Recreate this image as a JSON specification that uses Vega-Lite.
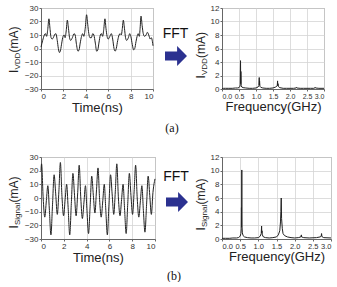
{
  "$schema": "https://vega.github.io/schema/vega-lite/v6.json",
  "padding": {"left": 6, "top": 3, "right": 0, "bottom": 0},
  "background": "white",
  "config": {
    "font": "Liberation Sans",
    "view": {"stroke": "#888", "strokeWidth": 1},
    "axis": {"labelFontSize": 8, "labelColor": "#333", "tickSize": 2, "tickColor": "#666", "domainColor": "#666", "gridColor": "#d4d4d4", "gridWidth": 0.8, "labelPadding": 1, "titleFontWeight": "normal", "titleColor": "#222", "titleFont": "Liberation Sans", "labelFont": "Liberation Sans"},
    "line": {"color": "#222", "strokeWidth": 1}
  },
  "datasets": {
    "vddTime": [
      {"t":0.00,"i":1},{"t":0.15,"i":6},{"t":0.30,"i":10},{"t":0.40,"i":11},{"t":0.50,"i":9},{"t":0.60,"i":14},{"t":0.71,"i":22},{"t":0.80,"i":15},{"t":0.90,"i":8},{"t":1.00,"i":7},{"t":1.10,"i":8},{"t":1.20,"i":10},{"t":1.33,"i":11},{"t":1.45,"i":6},{"t":1.55,"i":0},{"t":1.65,"i":-3},{"t":1.75,"i":-1},{"t":1.85,"i":4},{"t":1.97,"i":9},{"t":2.07,"i":10},{"t":2.15,"i":8},{"t":2.25,"i":13},{"t":2.35,"i":21},{"t":2.45,"i":15},{"t":2.55,"i":8},{"t":2.65,"i":6},{"t":2.80,"i":8},{"t":2.95,"i":11},{"t":3.05,"i":10},{"t":3.15,"i":4},{"t":3.30,"i":-2},{"t":3.40,"i":-1},{"t":3.50,"i":4},{"t":3.62,"i":9},{"t":3.72,"i":11},{"t":3.82,"i":9},{"t":3.95,"i":15},{"t":4.07,"i":25},{"t":4.17,"i":18},{"t":4.27,"i":11},{"t":4.37,"i":8},{"t":4.50,"i":8},{"t":4.62,"i":11},{"t":4.72,"i":10},{"t":4.85,"i":4},{"t":4.97,"i":-2},{"t":5.07,"i":-1},{"t":5.17,"i":4},{"t":5.30,"i":10},{"t":5.40,"i":11},{"t":5.50,"i":9},{"t":5.60,"i":14},{"t":5.71,"i":22},{"t":5.80,"i":15},{"t":5.90,"i":9},{"t":6.00,"i":7},{"t":6.15,"i":9},{"t":6.28,"i":11},{"t":6.40,"i":7},{"t":6.52,"i":0},{"t":6.62,"i":-2},{"t":6.72,"i":0},{"t":6.85,"i":6},{"t":6.97,"i":10},{"t":7.07,"i":11},{"t":7.17,"i":10},{"t":7.25,"i":14},{"t":7.35,"i":21},{"t":7.45,"i":15},{"t":7.55,"i":8},{"t":7.65,"i":6},{"t":7.80,"i":8},{"t":7.92,"i":11},{"t":8.02,"i":9},{"t":8.15,"i":3},{"t":8.27,"i":-1},{"t":8.37,"i":0},{"t":8.48,"i":5},{"t":8.58,"i":9},{"t":8.68,"i":11},{"t":8.78,"i":9},{"t":8.85,"i":15},{"t":8.93,"i":24},{"t":9.03,"i":17},{"t":9.13,"i":11},{"t":9.25,"i":9},{"t":9.38,"i":10},{"t":9.50,"i":12},{"t":9.62,"i":10},{"t":9.75,"i":7},{"t":9.85,"i":8},{"t":9.95,"i":5},{"t":10.0,"i":2}
    ],
    "vddFft": [
      {"f":0.00,"a":0.05},{"f":0.05,"a":0.1},{"f":0.10,"a":0.1},{"f":0.20,"a":0.1},{"f":0.30,"a":0.1},{"f":0.40,"a":0.15},{"f":0.45,"a":0.15},{"f":0.50,"a":0.2},{"f":0.52,"a":0.3},{"f":0.535,"a":0.6},{"f":0.545,"a":4.2},{"f":0.55,"a":0.8},{"f":0.555,"a":2.6},{"f":0.565,"a":0.5},{"f":0.58,"a":0.3},{"f":0.62,"a":0.2},{"f":0.70,"a":0.15},{"f":0.80,"a":0.1},{"f":0.90,"a":0.1},{"f":1.00,"a":0.15},{"f":1.06,"a":0.3},{"f":1.085,"a":0.5},{"f":1.095,"a":1.7},{"f":1.10,"a":0.6},{"f":1.105,"a":1.2},{"f":1.115,"a":0.4},{"f":1.14,"a":0.25},{"f":1.20,"a":0.15},{"f":1.30,"a":0.1},{"f":1.40,"a":0.1},{"f":1.50,"a":0.15},{"f":1.58,"a":0.3},{"f":1.625,"a":0.5},{"f":1.635,"a":1.2},{"f":1.64,"a":0.5},{"f":1.645,"a":0.8},{"f":1.66,"a":0.35},{"f":1.70,"a":0.2},{"f":1.80,"a":0.1},{"f":1.90,"a":0.1},{"f":2.00,"a":0.1},{"f":2.10,"a":0.1},{"f":2.18,"a":0.15},{"f":2.19,"a":0.25},{"f":2.20,"a":0.15},{"f":2.30,"a":0.1},{"f":2.40,"a":0.1},{"f":2.50,"a":0.1},{"f":2.60,"a":0.1},{"f":2.70,"a":0.1},{"f":2.73,"a":0.15},{"f":2.74,"a":0.25},{"f":2.75,"a":0.15},{"f":2.85,"a":0.1},{"f":3.00,"a":0.1}
    ],
    "sigTime": [
      {"t":0.00,"i":20},{"t":0.05,"i":25},{"t":0.19,"i":0},{"t":0.33,"i":-14},{"t":0.47,"i":-2},{"t":0.60,"i":9},{"t":0.73,"i":-8},{"t":0.87,"i":-27},{"t":1.01,"i":-5},{"t":1.15,"i":17},{"t":1.29,"i":3},{"t":1.43,"i":-12},{"t":1.57,"i":5},
      {"t":1.70,"i":26},{"t":1.84,"i":1},{"t":1.98,"i":-13},{"t":2.12,"i":-1},{"t":2.25,"i":10},{"t":2.38,"i":-7},{"t":2.52,"i":-27},{"t":2.66,"i":-4},{"t":2.80,"i":18},{"t":2.94,"i":2},{"t":3.08,"i":-13},{"t":3.22,"i":4},
      {"t":3.35,"i":24},{"t":3.49,"i":0},{"t":3.63,"i":-15},{"t":3.77,"i":-3},{"t":3.90,"i":9},{"t":4.03,"i":-9},{"t":4.17,"i":-26},{"t":4.31,"i":-6},{"t":4.45,"i":16},{"t":4.59,"i":2},{"t":4.73,"i":-11},{"t":4.87,"i":6},
      {"t":5.00,"i":22},{"t":5.14,"i":-1},{"t":5.28,"i":-14},{"t":5.42,"i":-2},{"t":5.55,"i":10},{"t":5.68,"i":-8},{"t":5.82,"i":-27},{"t":5.96,"i":-5},{"t":6.10,"i":17},{"t":6.24,"i":3},{"t":6.38,"i":-12},{"t":6.52,"i":5},
      {"t":6.65,"i":25},{"t":6.79,"i":0},{"t":6.93,"i":-13},{"t":7.07,"i":-1},{"t":7.20,"i":10},{"t":7.33,"i":-8},{"t":7.47,"i":-26},{"t":7.61,"i":-4},{"t":7.75,"i":18},{"t":7.89,"i":2},{"t":8.03,"i":-12},{"t":8.17,"i":5},
      {"t":8.30,"i":24},{"t":8.44,"i":0},{"t":8.58,"i":-14},{"t":8.72,"i":-2},{"t":8.85,"i":9},{"t":8.98,"i":-9},{"t":9.12,"i":-25},{"t":9.26,"i":-5},{"t":9.40,"i":16},{"t":9.54,"i":2},{"t":9.68,"i":-12},{"t":9.82,"i":4},{"t":9.95,"i":12},{"t":10.0,"i":14}
    ],
    "sigFft": [
      {"f":0.00,"a":0.1},{"f":0.10,"a":0.1},{"f":0.20,"a":0.1},{"f":0.30,"a":0.15},{"f":0.40,"a":0.15},{"f":0.45,"a":0.2},{"f":0.50,"a":0.4},{"f":0.52,"a":0.8},{"f":0.53,"a":1.5},{"f":0.535,"a":4.6},{"f":0.54,"a":1.8},{"f":0.545,"a":10.1},{"f":0.55,"a":2.0},{"f":0.56,"a":0.9},{"f":0.58,"a":0.5},{"f":0.62,"a":0.3},{"f":0.70,"a":0.2},{"f":0.80,"a":0.15},{"f":0.90,"a":0.15},{"f":1.00,"a":0.2},{"f":1.05,"a":0.4},{"f":1.08,"a":0.8},{"f":1.09,"a":1.9},{"f":1.095,"a":0.9},{"f":1.10,"a":1.2},{"f":1.11,"a":0.6},{"f":1.14,"a":0.3},{"f":1.20,"a":0.2},{"f":1.30,"a":0.15},{"f":1.40,"a":0.2},{"f":1.50,"a":0.3},{"f":1.55,"a":0.6},{"f":1.59,"a":1.2},{"f":1.61,"a":2.5},{"f":1.62,"a":4.0},{"f":1.63,"a":6.0},{"f":1.64,"a":3.0},{"f":1.66,"a":1.5},{"f":1.68,"a":0.8},{"f":1.72,"a":0.5},{"f":1.80,"a":0.3},{"f":1.90,"a":0.2},{"f":2.00,"a":0.15},{"f":2.10,"a":0.2},{"f":2.17,"a":0.3},{"f":2.185,"a":0.6},{"f":2.19,"a":0.3},{"f":2.25,"a":0.2},{"f":2.40,"a":0.15},{"f":2.60,"a":0.2},{"f":2.70,"a":0.3},{"f":2.73,"a":0.4},{"f":2.74,"a":0.8},{"f":2.75,"a":0.35},{"f":2.80,"a":0.2},{"f":3.00,"a":0.15}
    ]
  },
  "columns": 3,
  "align": "each",
  "bounds": "flush",
  "spacing": {"row": 68, "column": 0},
  "concat": [
    {
      "width": 112, "height": 81,
      "data": {"name": "vddTime"},
      "layer": [
        {"mark": {"type": "line", "interpolate": "monotone"},
         "encoding": {
           "x": {"field": "t", "type": "quantitative", "scale": {"domain": [0, 10], "nice": false}, "axis": {"values": [0,2,4,6,8,10], "title": "Time(ns)", "titleFontSize": 13, "titlePadding": 1}},
           "y": {"field": "i", "type": "quantitative", "scale": {"domain": [-30, 30], "nice": false}, "axis": {"values": [-30,-20,-10,0,10,20,30], "title": "I", "titleFontSize": 12, "titleAngle": 270, "titleAlign": "left", "titleBaseline": "alphabetic", "titleX": -24, "titleY": 64.5}}
         }},
        {"mark": {"type": "line", "opacity": 0},
         "encoding": {
           "x": {"field": "t", "type": "quantitative", "scale": {"domain": [0, 10], "nice": false}, "axis": {"values": [0,2,4,6,8,10], "title": "Time(ns)", "titleFontSize": 13, "titlePadding": 1}},
           "y": {"field": "i", "type": "quantitative", "scale": {"domain": [-30, 30], "nice": false}, "axis": {"orient": "left", "title": "VDD", "titleFontSize": 8, "titleAngle": 270, "titleAlign": "left", "titleBaseline": "alphabetic", "titleX": -21.5, "titleY": 61, "labels": false, "ticks": false, "domain": false, "grid": false}}
         }},
        {"mark": {"type": "line", "opacity": 0},
         "encoding": {
           "x": {"field": "t", "type": "quantitative", "scale": {"domain": [0, 10], "nice": false}, "axis": {"values": [0,2,4,6,8,10], "title": "Time(ns)", "titleFontSize": 13, "titlePadding": 1}},
           "y": {"field": "i", "type": "quantitative", "scale": {"domain": [-30, 30], "nice": false}, "axis": {"orient": "left", "title": "(mA)", "titleFontSize": 12, "titleAngle": 270, "titleAlign": "left", "titleBaseline": "alphabetic", "titleX": -24, "titleY": 44, "labels": false, "ticks": false, "domain": false, "grid": false}}
         }}
      ],
      "resolve": {"axis": {"y": "independent"}}
    },
    {
      "width": 67, "height": 81,
      "view": {"stroke": null},
      "title": {"text": "(a)", "orient": "bottom", "anchor": "middle", "font": "Liberation Serif", "fontSize": 12, "fontWeight": "normal", "color": "#111", "dx": -16.5, "offset": 34},
      "data": {"values": [{"label": "FFT"}]},
      "layer": [
        {"mark": {"type": "text", "fontSize": 14, "dx": -13, "dy": -14.5, "color": "#111", "font": "Liberation Sans"}, "encoding": {"text": {"field": "label"}}},
        {"mark": {"type": "point", "shape": "M-1,-0.42L0.1,-0.42L0.1,-0.9L1,0L0.1,0.9L0.1,0.42L-1,0.42Z", "size": 484, "filled": true, "color": "#2b3190", "opacity": 1, "strokeWidth": 0, "xOffset": -12.5, "yOffset": 7.5}, "encoding": {}}
      ]
    },
    {
      "width": 102, "height": 81,
      "data": {"name": "vddFft"},
      "layer": [
        {"mark": {"type": "line"},
         "encoding": {
           "x": {"field": "f", "type": "quantitative", "scale": {"domain": [0, 3], "nice": false}, "axis": {"values": [0,0.5,1,1.5,2,2.5,3], "format": ".1f", "labelFontSize": 7, "title": "Frequency(GHz)", "titleFontSize": 13, "titlePadding": 1}},
           "y": {"field": "a", "type": "quantitative", "scale": {"domain": [0, 12], "nice": false}, "axis": {"values": [0,2,4,6,8,10,12], "title": "I", "titleFontSize": 12, "titleAngle": 270, "titleAlign": "left", "titleBaseline": "alphabetic", "titleX": -18, "titleY": 70}}
         }},
        {"mark": {"type": "line", "opacity": 0},
         "encoding": {
           "x": {"field": "f", "type": "quantitative", "scale": {"domain": [0, 3], "nice": false}, "axis": {"values": [0,0.5,1,1.5,2,2.5,3], "format": ".1f", "labelFontSize": 7, "title": "Frequency(GHz)", "titleFontSize": 13, "titlePadding": 1}},
           "y": {"field": "a", "type": "quantitative", "scale": {"domain": [0, 12], "nice": false}, "axis": {"orient": "left", "title": "VDD", "titleFontSize": 8, "titleAngle": 270, "titleAlign": "left", "titleBaseline": "alphabetic", "titleX": -15.5, "titleY": 66.5, "labels": false, "ticks": false, "domain": false, "grid": false}}
         }},
        {"mark": {"type": "line", "opacity": 0},
         "encoding": {
           "x": {"field": "f", "type": "quantitative", "scale": {"domain": [0, 3], "nice": false}, "axis": {"values": [0,0.5,1,1.5,2,2.5,3], "format": ".1f", "labelFontSize": 7, "title": "Frequency(GHz)", "titleFontSize": 13, "titlePadding": 1}},
           "y": {"field": "a", "type": "quantitative", "scale": {"domain": [0, 12], "nice": false}, "axis": {"orient": "left", "title": "(mA)", "titleFontSize": 12, "titleAngle": 270, "titleAlign": "left", "titleBaseline": "alphabetic", "titleX": -18, "titleY": 49.5, "labels": false, "ticks": false, "domain": false, "grid": false}}
         }}
      ],
      "resolve": {"axis": {"y": "independent"}}
    },
    {
      "width": 114, "height": 82,
      "data": {"name": "sigTime"},
      "layer": [
        {"mark": {"type": "line", "interpolate": "monotone"},
         "encoding": {
           "x": {"field": "t", "type": "quantitative", "scale": {"domain": [0, 10], "nice": false}, "axis": {"values": [0,2,4,6,8,10], "title": "Time(ns)", "titleFontSize": 13, "titlePadding": 1}},
           "y": {"field": "i", "type": "quantitative", "scale": {"domain": [-30, 30], "nice": false}, "axis": {"values": [-30,-20,-10,0,10,20,30], "title": "I", "titleFontSize": 12, "titleAngle": 270, "titleAlign": "left", "titleBaseline": "alphabetic", "titleX": -24, "titleY": 71}}
         }},
        {"mark": {"type": "line", "opacity": 0},
         "encoding": {
           "x": {"field": "t", "type": "quantitative", "scale": {"domain": [0, 10], "nice": false}, "axis": {"values": [0,2,4,6,8,10], "title": "Time(ns)", "titleFontSize": 13, "titlePadding": 1}},
           "y": {"field": "i", "type": "quantitative", "scale": {"domain": [-30, 30], "nice": false}, "axis": {"orient": "left", "title": "Signal", "titleFontSize": 8, "titleAngle": 270, "titleAlign": "left", "titleBaseline": "alphabetic", "titleX": -21.5, "titleY": 67.5, "labels": false, "ticks": false, "domain": false, "grid": false}}
         }},
        {"mark": {"type": "line", "opacity": 0},
         "encoding": {
           "x": {"field": "t", "type": "quantitative", "scale": {"domain": [0, 10], "nice": false}, "axis": {"values": [0,2,4,6,8,10], "title": "Time(ns)", "titleFontSize": 13, "titlePadding": 1}},
           "y": {"field": "i", "type": "quantitative", "scale": {"domain": [-30, 30], "nice": false}, "axis": {"orient": "left", "title": "(mA)", "titleFontSize": 12, "titleAngle": 270, "titleAlign": "left", "titleBaseline": "alphabetic", "titleX": -24, "titleY": 45, "labels": false, "ticks": false, "domain": false, "grid": false}}
         }}
      ],
      "resolve": {"axis": {"y": "independent"}}
    },
    {
      "width": 67, "height": 82,
      "view": {"stroke": null},
      "title": {"text": "(b)", "orient": "bottom", "anchor": "middle", "font": "Liberation Serif", "fontSize": 12, "fontWeight": "normal", "color": "#111", "dx": -14.5, "offset": 32},
      "data": {"values": [{"label": "FFT"}]},
      "layer": [
        {"mark": {"type": "text", "fontSize": 14, "dx": -12.5, "dy": -21, "color": "#111", "font": "Liberation Sans"}, "encoding": {"text": {"field": "label"}}},
        {"mark": {"type": "point", "shape": "M-1,-0.42L0.1,-0.42L0.1,-0.9L1,0L0.1,0.9L0.1,0.42L-1,0.42Z", "size": 484, "filled": true, "color": "#2b3190", "opacity": 1, "strokeWidth": 0, "xOffset": -11.5, "yOffset": 4}, "encoding": {}}
      ]
    },
    {
      "width": 109, "height": 82,
      "data": {"name": "sigFft"},
      "layer": [
        {"mark": {"type": "line"},
         "encoding": {
           "x": {"field": "f", "type": "quantitative", "scale": {"domain": [0, 3], "nice": false}, "axis": {"values": [0,0.5,1,1.5,2,2.5,3], "format": ".1f", "labelFontSize": 7.5, "title": "Frequency(GHz)", "titleFontSize": 13, "titlePadding": 1}},
           "y": {"field": "a", "type": "quantitative", "scale": {"domain": [0, 12], "nice": false}, "axis": {"values": [0,2,4,6,8,10,12], "title": "I", "titleFontSize": 12, "titleAngle": 270, "titleAlign": "left", "titleBaseline": "alphabetic", "titleX": -18, "titleY": 73}}
         }},
        {"mark": {"type": "line", "opacity": 0},
         "encoding": {
           "x": {"field": "f", "type": "quantitative", "scale": {"domain": [0, 3], "nice": false}, "axis": {"values": [0,0.5,1,1.5,2,2.5,3], "format": ".1f", "labelFontSize": 7.5, "title": "Frequency(GHz)", "titleFontSize": 13, "titlePadding": 1}},
           "y": {"field": "a", "type": "quantitative", "scale": {"domain": [0, 12], "nice": false}, "axis": {"orient": "left", "title": "Signal", "titleFontSize": 8, "titleAngle": 270, "titleAlign": "left", "titleBaseline": "alphabetic", "titleX": -15.5, "titleY": 69.5, "labels": false, "ticks": false, "domain": false, "grid": false}}
         }},
        {"mark": {"type": "line", "opacity": 0},
         "encoding": {
           "x": {"field": "f", "type": "quantitative", "scale": {"domain": [0, 3], "nice": false}, "axis": {"values": [0,0.5,1,1.5,2,2.5,3], "format": ".1f", "labelFontSize": 7.5, "title": "Frequency(GHz)", "titleFontSize": 13, "titlePadding": 1}},
           "y": {"field": "a", "type": "quantitative", "scale": {"domain": [0, 12], "nice": false}, "axis": {"orient": "left", "title": "(mA)", "titleFontSize": 12, "titleAngle": 270, "titleAlign": "left", "titleBaseline": "alphabetic", "titleX": -18, "titleY": 47, "labels": false, "ticks": false, "domain": false, "grid": false}}
         }}
      ],
      "resolve": {"axis": {"y": "independent"}}
    }
  ]
}
